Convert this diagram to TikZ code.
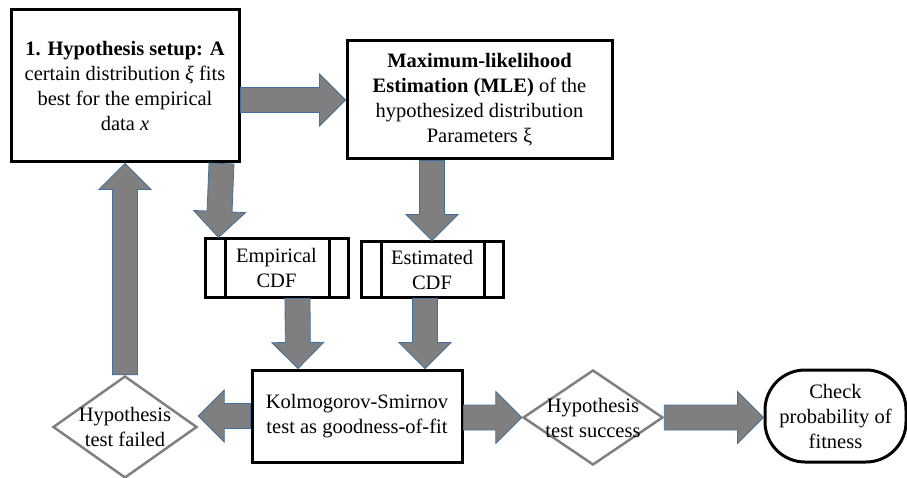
\documentclass[tikz,border=0pt]{standalone}
\usepackage{fontspec}
\setmainfont{Liberation Serif}
\usepackage{tikz}
\usetikzlibrary{calc,shapes.geometric}
\usepackage{color}

\definecolor{arrowgray}{HTML}{7F7F7F}
\definecolor{arrowedge}{HTML}{41719C}
\definecolor{diamondgray}{HTML}{808080}

% block arrow from #1 to #2 (tip at #2)
\newcommand{\fatarrow}[2]{%
    \coordinate (fa-from) at (#1);
    \coordinate (fa-to) at (#2);
    \coordinate (fa-neck) at ($(fa-to)!26pt!(fa-from)$);
    \filldraw[fatarrow]
        ($(fa-from)!12.5pt!90:(fa-to)$) -- ($(fa-neck)!12.5pt!90:(fa-to)$)
        -- ($(fa-neck)!26pt!90:(fa-to)$) -- (fa-to)
        -- ($(fa-neck)!26pt!-90:(fa-to)$) -- ($(fa-neck)!12.5pt!-90:(fa-to)$)
        -- ($(fa-from)!12.5pt!-90:(fa-to)$) -- cycle;
}

\begin{document}
\begin{tikzpicture}[x=1pt, y=1pt,
    every node/.style={font=\fontsize{20.5}{25}\selectfont},
    block/.style={draw, line width=3pt, align=center, inner sep=0pt},
    cdf/.style={block,
        path picture={
            \draw[line width=3pt]
                ([xshift=20pt]path picture bounding box.north west) --
                ([xshift=20pt]path picture bounding box.south west)
                ([xshift=-19pt]path picture bounding box.north east) --
                ([xshift=-19pt]path picture bounding box.south east);
        }},
    decision/.style={diamond, draw=diamondgray, line width=2.5pt, inner sep=0pt},
    fatarrow/.style={fill=arrowgray, draw=arrowedge, line width=0.8pt}]

    \useasboundingbox (0,0) rectangle (907,477);

    \node [block,
        minimum width=228pt,
        minimum height=152pt
    ]  (hypo) at (125,391)
    {\textbf{1. Hypothesis setup: A}\\certain distribution \textit{ξ} fits\\best for the empirical\\data \textit{x}};
    \node [block,
        minimum width=265pt,
        minimum height=118pt
    ]  (mle) at (479.5,377)
    {\textbf{Maximum-likelihood}\\\textbf{Estimation (MLE)} of the\\hypothesized distribution\\Parameters ξ};

    \node [cdf,
        minimum width=143pt,
        minimum height=58pt
    ]  (emp) at (276.5,209) {Empirical\\CDF};
    \node [cdf,
        minimum width=142pt,
        minimum height=55pt
    ]  (est) at (432,207.5) {Estimated\\CDF};

    \node [block,
        minimum width=210pt,
        minimum height=92pt
    ]  (ks) at (357,61) {Kolmogorov-Smirnov\\test as goodness-of-fit};

    \node [decision,
        minimum width=144pt,
        minimum height=102pt,
        label={[align=center]center:Hypothesis\\test failed}
    ]  (fail) at (125,50) {};
    \node [decision,
        minimum width=140pt,
        minimum height=95pt,
        label={[align=center]center:Hypothesis\\test success}
    ]  (succ) at (593,59.5) {};

    \node [draw, line width=3pt,
        rounded corners=40pt,
        align=center, inner sep=0pt,
        minimum width=141pt,
        minimum height=92pt
    ]  (check) at (835.5,61) {Check\\probability of\\fitness};

    % arrows between the blocks
    \fatarrow{hypo.east |- mle.west}{mle.west}
    \fatarrow{[xshift=-19pt]hypo.south east}{[xshift=15pt]emp.north west}
    \fatarrow{est.north |- mle.south}{est.north}
    \fatarrow{[xshift=21pt]emp.south}{[xshift=-59pt]ks.north}
    \fatarrow{[xshift=-7pt]est.south}{[xshift=68pt]ks.north}
    \fatarrow{ks.west}{fail.east |- ks.west}
    \fatarrow{fail.north}{hypo.south}
    \fatarrow{ks.east |- succ.west}{succ.west}
    \fatarrow{succ.east}{check.west |- succ.east}

\end{tikzpicture}
\end{document}
